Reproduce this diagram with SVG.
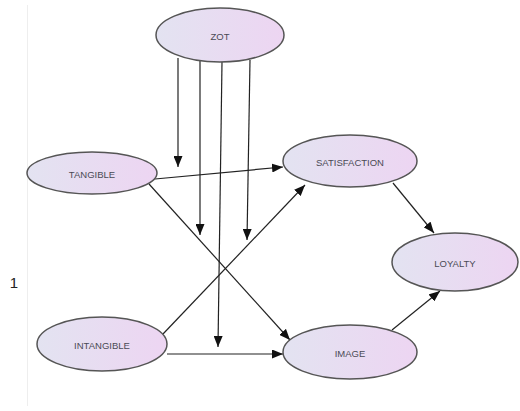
<svg xmlns="http://www.w3.org/2000/svg" width="520" height="411" viewBox="0 0 520 411">
<defs>
<linearGradient id="g" x1="0" y1="0" x2="1" y2="0">
<stop offset="0" stop-color="#e3e3f1"/>
<stop offset="1" stop-color="#edd5f2"/>
</linearGradient>
<marker id="a" viewBox="0 0 11 9" refX="11" refY="4.5" markerWidth="11" markerHeight="9" markerUnits="userSpaceOnUse" orient="auto">
<path d="M0,0 L11,4.5 L0,9 z" fill="#111"/>
</marker>
<style>
.n ellipse{fill:url(#g);stroke:#555;stroke-width:1.5}
.n text{font-family:"Liberation Sans",Arial,sans-serif;font-size:9.5px;fill:#4a4a55;text-anchor:middle;dominant-baseline:central}
.c line{stroke:#222;stroke-width:1.2;marker-end:url(#a)}
</style>
</defs>
<rect width="520" height="411" fill="#fff"/>
<line x1="27.5" y1="5" x2="27.5" y2="406" stroke="#eee" stroke-width="1"/>
<text x="14" y="288" font-family="Liberation Sans,Arial,sans-serif" font-size="15" fill="#222" text-anchor="middle">1</text>
<g class="c">
<line x1="178" y1="58" x2="178" y2="167"/>
<line x1="200" y1="61" x2="200" y2="235"/>
<line x1="222" y1="62" x2="218" y2="347"/>
<line x1="250" y1="60" x2="247" y2="240"/>
<line x1="155" y1="179" x2="283" y2="167"/>
<line x1="149" y1="184" x2="290" y2="340"/>
<line x1="163" y1="334" x2="305" y2="185"/>
<line x1="167" y1="354" x2="283" y2="354"/>
<line x1="393" y1="183" x2="434" y2="233"/>
<line x1="392" y1="330" x2="440" y2="291"/>
</g>
<g id="zot" class="n"><ellipse cx="220" cy="35" rx="64" ry="27"/><text x="220" y="36">ZOT</text></g>
<g id="tangible" class="n"><ellipse cx="92" cy="173" rx="65" ry="21"/><text x="92" y="174">TANGIBLE</text></g>
<g id="satisfaction" class="n"><ellipse cx="350" cy="161" rx="67" ry="26"/><text x="350" y="162">SATISFACTION</text></g>
<g id="loyalty" class="n"><ellipse cx="455" cy="262" rx="63" ry="29"/><text x="455" y="263">LOYALTY</text></g>
<g id="intangible" class="n"><ellipse cx="102" cy="344" rx="65" ry="27"/><text x="102" y="345">INTANGIBLE</text></g>
<g id="image" class="n"><ellipse cx="350" cy="352" rx="67" ry="27"/><text x="350" y="353">IMAGE</text></g>
</svg>
